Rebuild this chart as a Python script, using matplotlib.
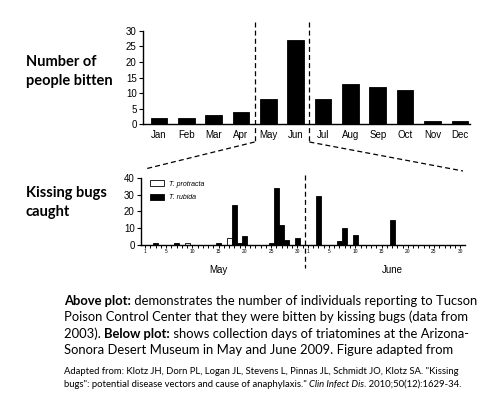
import matplotlib
matplotlib.use("Agg")
import matplotlib.pyplot as plt
from matplotlib.transforms import blended_transform_factory
from matplotlib.lines import Line2D

# ---------------- data ----------------
months = ['Jan', 'Feb', 'Mar', 'Apr', 'May', 'Jun', 'Jul', 'Aug', 'Sep', 'Oct', 'Nov', 'Dec']
people_bitten = [2, 2, 3, 4, 8, 27, 8, 13, 12, 11, 1, 1]

may_rubida = [0, 0, 1, 0, 0, 0, 1, 0, 0, 0,
              0, 0, 0, 0, 1, 0, 0, 24, 1, 5,
              0, 0, 0, 0, 1, 34, 12, 3, 0, 4, 0]
may_protracta = [0, 0, 0, 0, 0, 0, 0, 0, 1, 0,
                 0, 0, 0, 0, 0, 0, 4, 0, 0, 0,
                 0, 0, 0, 0, 0, 0, 0, 0, 0, 0, 0]
june_rubida = [0, 0, 29, 0, 0, 0, 2, 10, 0, 6,
               0, 0, 0, 0, 0, 0, 15, 0, 0, 0,
               0, 0, 0, 0, 0, 0, 0, 0, 0, 0]
june_protracta = [0] * 30
day_tick_labels = ['1', '5', '10', '15', '20', '25', '30']
day_tick_days = [1, 5, 10, 15, 20, 25, 30]

W, H = 500, 405
fig = plt.figure(figsize=(W / 100, H / 100), dpi=100)
fig.patch.set_facecolor('white')
CHART_FONT = 'Liberation Sans'
TEXT_FONT = 'Lato'


def ax_px(left, top, right, bottom):
    return fig.add_axes([left / W, 1 - bottom / H, (right - left) / W, (bottom - top) / H])


# ---------------- top chart ----------------
ax1 = ax_px(143, 30.7, 470, 124.3)
x1 = list(range(len(months)))
ax1.bar(x1, people_bitten, width=0.61, color='black', edgecolor='black', linewidth=0.6)
ax1.set_xlim(-0.58, 11.37)
ax1.set_ylim(0, 30)
ax1.set_yticks([0, 5, 10, 15, 20, 25, 30])
ax1.set_xticks(x1)
ax1.set_xticklabels(months)
for s in ['top', 'right']:
    ax1.spines[s].set_visible(False)
for s in ['left', 'bottom']:
    ax1.spines[s].set_linewidth(1.0)
ax1.tick_params(axis='y', length=3, width=0.8, pad=1.5, labelsize=7)
ax1.tick_params(axis='x', length=0, pad=4, labelsize=7)
for lab in ax1.get_xticklabels() + ax1.get_yticklabels():
    lab.set_family(CHART_FONT)

# ---------------- bottom chart ----------------
ax2 = ax_px(141, 178, 465, 244.6)
may_x = list(range(len(may_rubida)))
june_x = [len(may_rubida) + i for i in range(len(june_rubida))]
ax2.bar(may_x + june_x, may_protracta + june_protracta, width=0.95, color='white',
        edgecolor='black', linewidth=0.6, label='T. protracta')
ax2.bar(may_x + june_x, may_rubida + june_rubida, width=0.95, color='black',
        edgecolor='black', linewidth=0.6, label='T. rubida')
ax2.set_xlim(-0.8, 60.9)
ax2.set_ylim(0, 40)
ax2.set_yticks([0, 10, 20, 30, 40])
ax2.set_xticks(may_x + june_x)
ax2.set_xticklabels([])
lab_pos = [d - 1 for d in day_tick_days] + [len(may_rubida) + d - 1 for d in day_tick_days]
for p, t in zip(lab_pos, day_tick_labels + day_tick_labels):
    ax2.text(p, -2.8, t, ha='center', va='top', fontsize=3.5, family=CHART_FONT,
             transform=ax2.transData, clip_on=False)
for s in ['top', 'right']:
    ax2.spines[s].set_visible(False)
for s in ['left', 'bottom']:
    ax2.spines[s].set_linewidth(1.0)
ax2.tick_params(axis='y', length=3, width=0.8, pad=1.5, labelsize=7)
ax2.tick_params(axis='x', length=2.5, width=0.7, direction='out')
for lab in ax2.get_yticklabels():
    lab.set_family(CHART_FONT)
ax2.text(14, -15, 'May', ha='center', va='center', fontsize=7, family=CHART_FONT, clip_on=False)
ax2.text(len(may_rubida) + 16, -15, 'June', ha='center', va='center', fontsize=7,
         family=CHART_FONT, clip_on=False)
leg = ax2.legend(loc='upper left', bbox_to_anchor=(0.01, 1.06), frameon=False,
                 prop={'family': CHART_FONT, 'style': 'italic', 'size': 5},
                 handlelength=2.0, handleheight=0.9, labelspacing=0.9, handletextpad=0.6)

# ---------------- dashed connector lines ----------------
ft = fig.transFigure
tr1 = blended_transform_factory(ax1.transData, ft)
tr2 = blended_transform_factory(ax2.transData, ft)
dash = dict(color='black', linewidth=0.9, linestyle=(0, (4, 2.5)), clip_on=False)
for xv in [3.5, 5.5]:
    ax1.plot([xv, xv], [1 - 22 / H, 1 - 142 / H], transform=tr1, **dash)
ax2.plot([30.5, 30.5], [1 - 175 / H, 1 - 268 / H], transform=tr2, **dash)
# diagonals: from bottom of upper dashed lines to bottom chart corners
p_left_top = tr1.transform((3.5, 1 - 142 / H))
p_right_top = tr1.transform((5.5, 1 - 142 / H))
inv = ft.inverted()
lt = inv.transform(p_left_top)
rt = inv.transform(p_right_top)
fig.add_artist(Line2D([lt[0], 145 / W], [lt[1], 1 - 169 / H], transform=ft,
                      color='black', linewidth=0.9, linestyle=(0, (4, 2.5))))
fig.add_artist(Line2D([rt[0], 463 / W], [rt[1], 1 - 171 / H], transform=ft,
                      color='black', linewidth=0.9, linestyle=(0, (4, 2.5))))

# ---------------- text helpers ----------------
renderer = fig.canvas.get_renderer()


def seg_width(segs, size):
    total = 0
    for txt, kw in segs:
        t = fig.text(0, 0, txt, fontsize=size, family=TEXT_FONT, **kw)
        total += t.get_window_extent(renderer=renderer).width
        t.remove()
    return total


def fit_size(segs, target_px):
    return 10 * target_px / seg_width(segs, 10)


def rich_line(x_px, y_px, segs, size):
    x = x_px
    for txt, kw in segs:
        t = fig.text(x / W, 1 - y_px / H, txt, fontsize=size, family=TEXT_FONT,
                     va='baseline', ha='left', **kw)
        x += t.get_window_extent(renderer=renderer).width


B = {'weight': 'bold'}
N = {}
I = {'style': 'italic'}

lbl_size = fit_size([('people bitten', B)], 87)
rich_line(26, 66, [('Number of', B)], lbl_size)
rich_line(26, 85, [('people bitten', B)], lbl_size)
rich_line(26, 197, [('Kissing bugs', B)], lbl_size)
rich_line(26, 216, [('caught', B)], lbl_size)

main_lines = [
    [('Above plot:', B), (' demonstrates the number of individuals reporting to Tucson', N)],
    [('Poison Control Center that they were bitten by kissing bugs (data from', N)],
    [('2003). ', N), ('Below plot:', B), (' shows collection days of triatomines at the Arizona-', N)],
    [('Sonora Desert Museum in May and June 2009. Figure adapted from', N)],
]
main_size = fit_size(main_lines[0], 416)
for yb, segs in zip([305, 321.3, 337.6, 354], main_lines):
    rich_line(64, yb, segs, main_size)

cite_lines = [
    [('Adapted from: Klotz JH, Dorn PL, Logan JL, Stevens L, Pinnas JL, Schmidt JO, Klotz SA. "Kissing', N)],
    [('bugs": potential disease vectors and cause of anaphylaxis." ', N), ('Clin Infect Dis', I),
     ('. 2010;50(12):1629-34.', N)],
]
cite_size = fit_size(cite_lines[0], 397)
for yb, segs in zip([373.5, 387], cite_lines):
    rich_line(64, yb, segs, cite_size)

fig.savefig('out.png', dpi=100)
